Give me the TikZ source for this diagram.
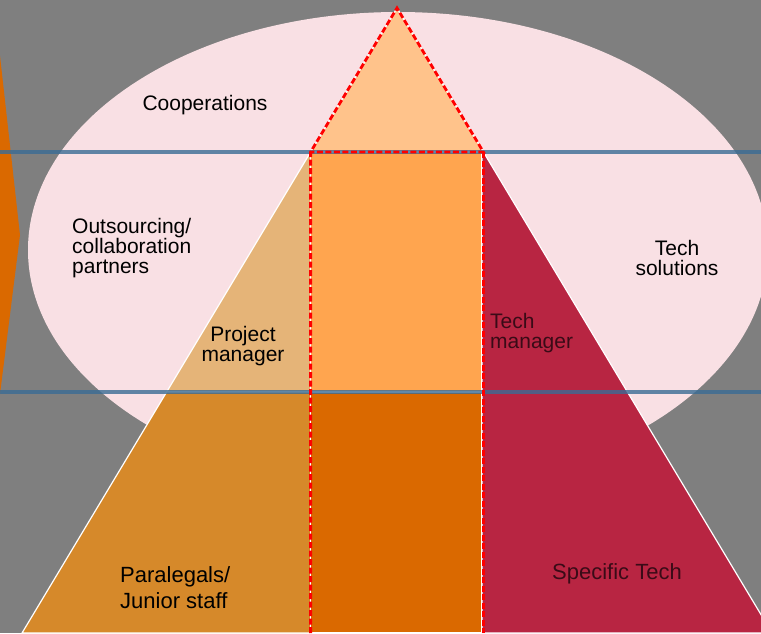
\documentclass[tikz,border=0pt]{standalone}
\usepackage{fontspec}
\setmainfont{Liberation Sans}
\definecolor{bg}{HTML}{7F7F7F}
\definecolor{rose}{HTML}{F9E0E4}
\definecolor{peach}{HTML}{FFC38B}
\definecolor{c0}{HTML}{FFA54F}
\definecolor{c1}{HTML}{DA6900}
\definecolor{c2}{HTML}{E5B478}
\definecolor{c3}{HTML}{D6892A}
\definecolor{c4}{HTML}{B82542}
\definecolor{rule}{HTML}{3A6C95}
\definecolor{ink}{HTML}{3A0B17}
\tikzset{%
  lbl/.style={font=\fontsize{21}{20}\selectfont,inner sep=0pt,align=#1},
  lbl/.default=center,
  part/.style={fill=#1,draw=white,line width=1.2pt},
  dashedge/.style={draw=red,line width=2.8pt,dash pattern=on 6pt off 2.5pt}
}

\begin{document}
\begin{tikzpicture}[x=1pt,y=-1pt]
  \useasboundingbox (0,0) rectangle (761,633);
  \clip (0,0) rectangle (761,633);
  \fill[bg] (0,0) rectangle (761,633);
  \fill[c1] (-2,38) -- (20,235) -- (-2,410) -- cycle;
  \fill[rose] (398,250) ellipse [x radius=370,y radius=238];
  %%
  \coordinate (t0) at (397,8);
  \coordinate (l1) at (310.6,152);
  \coordinate (r1) at (483.4,152);
  \coordinate (l2) at (166.6,392);
  \coordinate (m2) at (310.6,392);
  \coordinate (n2) at (482,392);
  \coordinate (l3) at (22,633);
  \coordinate (m3) at (310.6,633);
  \coordinate (n3) at (482,633);
  \coordinate (r3) at (772,633);
  \coordinate (n1) at (482,152);
  %%
  \filldraw[part=peach] (t0) -- (r1) -- (l1) -- cycle;
  \filldraw[part=c2] (l1) -- (m2) -- (l2) -- cycle;
  \filldraw[part=c3] (l2) -- (m2) -- (m3) -- (l3) -- cycle;
  \filldraw[part=c0] (l1) -- (n1) -- (n2) -- (m2) -- cycle;
  \filldraw[part=c1] (m2) -- (n2) -- (n3) -- (m3) -- cycle;
  \filldraw[part=c4] (n1) -- (r1) -- (r3) -- (n3) -- cycle;
  %%
  \coordinate (h0) at (0,152);
  \coordinate (h1) at (761,152);
  \coordinate (k0) at (0,392);
  \coordinate (k1) at (761,392);
  \draw[rule,line width=3.2pt,opacity=0.8] (h0) -- (h1);
  \draw[rule,line width=3.2pt,opacity=0.8] (k0) -- (k1);
  %%
  \draw[dashedge] (m3) -- (l1) -- (t0) -- (r1) -- (l1);
  \draw[dashedge] (r1) -- ([xshift=1.4pt]n3);
  %%
  \node[lbl] (coop) at (205,105) {Cooperations};
  \node[lbl=left,anchor=west] (outs) at (72,248) {Outsourcing/\\collaboration\\partners};
  \node[lbl] (pm) at (243,346) {Project\\manager};
  \node[lbl=left,anchor=west,text=ink] (tm) at (490,333) {Tech\\manager};
  \node[lbl,font=\fontsize{21}{19.5}\selectfont] (ts) at (677,258) {Tech\\solutions};
  \node[lbl=left,anchor=west,font=\fontsize{22}{26}\selectfont] (para) at (120,588) {Paralegals/\\Junior staff};
  \node[lbl,font=\fontsize{22}{26}\selectfont,text=ink] (spec) at (617,574) {Specific Tech};
\end{tikzpicture}
\end{document}
